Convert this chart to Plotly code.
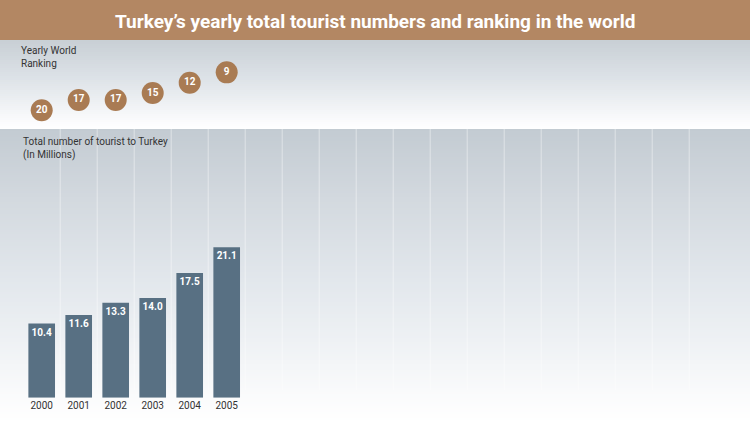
import plotly.graph_objects as go

years = ["2000", "2001", "2002", "2003", "2004", "2005"]
tourists = [10.4, 11.6, 13.3, 14.0, 17.5, 21.1]
rankings = [20, 17, 17, 15, 12, 9]

W, H = 750, 422
FONT = "Roboto, sans-serif"

def py(p):
    return 1 - p / H

def lerp(c1, c2, t):
    return tuple(round(a + (b - a) * t) for a, b in zip(c1, c2))

shapes = []
stops_up = [(40, (200, 207, 213)), (80, (222, 227, 232)), (110, (243, 245, 247)), (124, (253, 253, 254)), (129, (255, 255, 255))]
stops_lo = [(129, (195, 203, 210)), (200, (211, 217, 223)), (280, (226, 231, 236)), (340, (238, 241, 244)), (390, (249, 250, 251)), (422, (255, 255, 255))]

def grad(stops, step=2):
    for (p0, c0), (p1, c1) in zip(stops[:-1], stops[1:]):
        p = p0
        while p < p1:
            q = min(p + step, p1)
            t = ((p + q) / 2 - p0) / (p1 - p0)
            c = lerp(c0, c1, t)
            shapes.append(dict(type="rect", xref="paper", yref="paper", x0=0, x1=1,
                               y0=py(q), y1=py(p), fillcolor="rgb(%d,%d,%d)" % c,
                               line=dict(width=0), layer="below"))
            p = q

grad(stops_up)
grad(stops_lo)

for k in range(18):
    shapes.append(dict(type="line", xref="x", yref="paper", x0=k + 0.5, x1=k + 0.5,
                       y0=py(390), y1=py(129), line=dict(color="rgba(255,255,255,0.45)", width=1),
                       layer="below"))

shapes.append(dict(type="rect", xref="paper", yref="paper", x0=0, x1=1, y0=py(40), y1=1,
                   fillcolor="#B38763", line=dict(width=0), layer="below"))

xs = list(range(len(years)))

fig = go.Figure()
fig.add_trace(go.Bar(
    x=xs, y=tourists, width=0.72, marker=dict(color="#587083", line=dict(width=0)),
    text=["%.1f" % v for v in tourists], textposition="inside", insidetextanchor="end",
    textangle=0, textfont=dict(family=FONT, size=10, color="white", weight="bold"),
    constraintext="none", xaxis="x", yaxis="y", hoverinfo="skip"))

fig.add_trace(go.Scatter(
    x=xs, y=rankings, mode="markers+text",
    marker=dict(size=22, color="#A97B53", line=dict(width=0)),
    text=[str(r) for r in rankings], textposition="middle center",
    textfont=dict(family=FONT, size=10, color="white", weight="bold"),
    xaxis="x", yaxis="y2", cliponaxis=False, hoverinfo="skip"))

px_per = 7.13
ybot = 397.7
fig.update_layout(
    width=W, height=H, margin=dict(l=0, r=0, t=0, b=0),
    paper_bgcolor="white", plot_bgcolor="rgba(0,0,0,0)",
    showlegend=False, shapes=shapes,
    xaxis=dict(domain=[0, 1], range=[-41.7 / 37, (W - 41.7) / 37], tickvals=xs, ticktext=years,
               showgrid=False, zeroline=False, showline=False, ticks="", fixedrange=True,
               tickfont=dict(family=FONT, size=10, color="#333333")),
    yaxis=dict(domain=[py(ybot), py(129)], range=[0, (ybot - 129) / px_per], visible=False,
               showgrid=False, zeroline=False),
    yaxis2=dict(domain=[py(129), py(40)], range=[20 + (129 - 110.3) / 3.45, 20 - (110.3 - 40) / 3.45],
                visible=False, showgrid=False, zeroline=False, anchor="x"),
    annotations=[
        dict(text="Turkey’s yearly total tourist numbers and ranking in the world", xref="paper", yref="paper",
             x=0.5, y=py(22), xanchor="center", yanchor="middle", showarrow=False,
             font=dict(family=FONT, size=19, color="white", weight="bold")),
        dict(text="Yearly World<br>Ranking", xref="paper", yref="paper", x=19 / W, y=py(43),
             xanchor="left", yanchor="top", align="left", showarrow=False,
             font=dict(family=FONT, size=10, color="#333333")),
        dict(text="Total number of tourist to Turkey<br>(In Millions)", xref="paper", yref="paper",
             x=21 / W, y=py(134), xanchor="left", yanchor="top", align="left", showarrow=False,
             font=dict(family=FONT, size=10, color="#333333")),
    ],
)

fig.write_html("out.html")
